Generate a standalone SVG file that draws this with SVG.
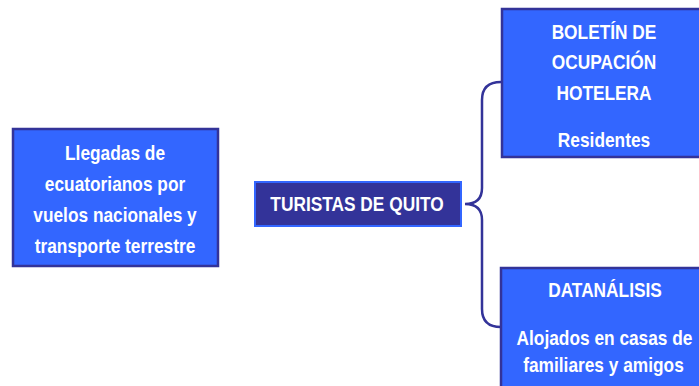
<svg xmlns="http://www.w3.org/2000/svg" width="699" height="386" viewBox="0 0 699 386">
<style>
.box{fill:#3366FF;stroke:#333399;stroke-width:2.5}
.mid{fill:#333399;stroke:#3366FF;stroke-width:2}
.t{font-family:"Liberation Sans",Arial,sans-serif;font-weight:bold;font-size:21px;fill:#FFFFFF;text-anchor:middle}
.con{fill:none;stroke:#333399;stroke-width:2.5}
</style>
<rect width="699" height="386" fill="#FFFFFF"/>
<g id="connectors">
<path class="con" d="M501 82 Q482 82 482 100 L482 188 Q482 204 465 204 Q482 204 482 220 L482 309 Q482 327 501 327"/>
</g>
<g id="llegadas">
<rect class="box" x="13" y="129" width="205" height="137"/>
<text class="t" transform="translate(115 160) scale(0.824 1)">Llegadas de</text>
<text class="t" transform="translate(115 191) scale(0.824 1)">ecuatorianos por</text>
<text class="t" transform="translate(115 222) scale(0.824 1)">vuelos nacionales y</text>
<text class="t" transform="translate(115 253) scale(0.824 1)">transporte terrestre</text>
</g>
<g id="turistas">
<rect class="mid" x="255" y="182" width="206" height="44"/>
<text class="t" transform="translate(357 211) scale(0.824 1)">TURISTAS DE QUITO</text>
</g>
<g id="boletin">
<rect class="box" x="502" y="9" width="199" height="148"/>
<text class="t" transform="translate(604 39) scale(0.824 1)">BOLETÍN DE</text>
<text class="t" transform="translate(604 69) scale(0.824 1)">OCUPACIÓN</text>
<text class="t" transform="translate(604 100) scale(0.824 1)">HOTELERA</text>
<text class="t" transform="translate(604 147) scale(0.824 1)">Residentes</text>
</g>
<g id="datanalisis">
<rect class="box" x="501" y="268" width="200" height="120"/>
<text class="t" transform="translate(605 297) scale(0.824 1)">DATANÁLISIS</text>
<text class="t" transform="translate(604.5 345) scale(0.824 1)">Alojados en casas de</text>
<text class="t" transform="translate(603.5 372) scale(0.824 1)">familiares y amigos</text>
</g>
</svg>
